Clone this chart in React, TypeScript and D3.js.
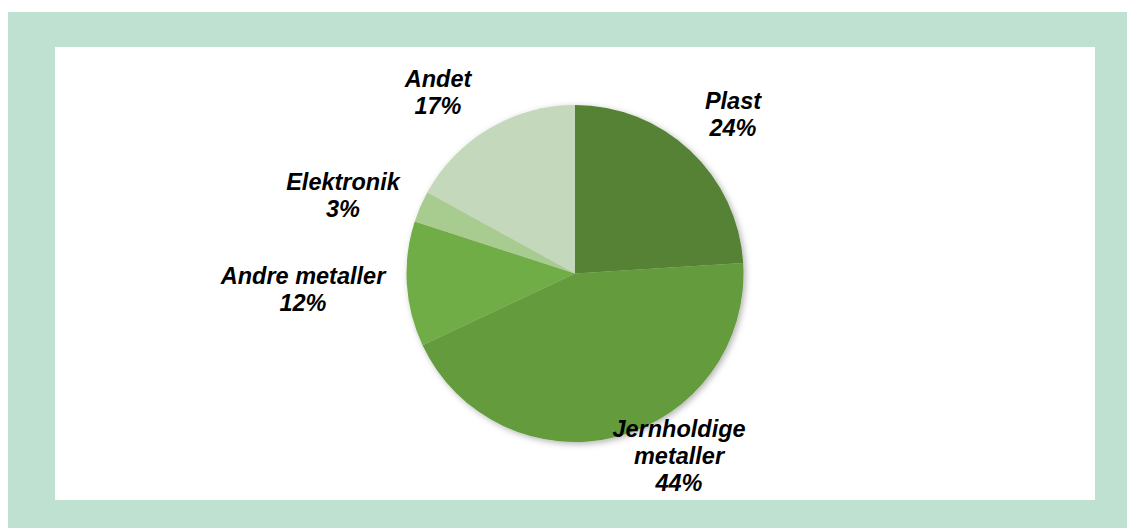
import React from "react";
import * as d3 from "d3";

const categories = ["Plast", "Jernholdige metaller", "Andre metaller", "Elektronik", "Andet"];
const values = [24, 44, 12, 3, 17];
const labelLines = [["Plast", "24%"], ["Jernholdige", "metaller", "44%"], ["Andre metaller", "12%"], ["Elektronik", "3%"], ["Andet", "17%"]];
const colors = ["#548235", "#639b3e", "#70ad47", "#a8cb8f", "#c4d8bb"];
// label anchor centers (x, first baseline)
const labelPos = [[733, 109], [679, 437], [303, 284], [343, 190], [438, 87]];

export default function App() {
  const W = 1127, H = 528;
  const cx = 575, cy = 273.5, r = 168.5;
  const pie = d3.pie<number>().sort(null).value((d) => d);
  const arcs = pie(values);
  const arc = d3.arc<d3.PieArcDatum<number>>().innerRadius(0).outerRadius(r);
  return (
    <svg width={W} height={H} style={{ position: "absolute", left: 0, top: 0 }}>
      <defs>
        <filter id="sh" x="-20%" y="-20%" width="140%" height="140%">
          <feDropShadow dx="2" dy="2" stdDeviation="3" floodColor="#000" floodOpacity="0.3" />
        </filter>
      </defs>
      <rect x={0} y={0} width={W} height={H} fill="#ffffff" />
      <rect x={8} y={12} width={W - 8} height={H - 12} fill="#bfe1d1" />
      <rect x={55} y={47} width={1040} height={453} fill="#ffffff" />
      <g transform={`translate(${cx},${cy})`} filter="url(#sh)">
        {arcs.map((a, i) => (
          <path key={categories[i]} d={arc(a) || ""} fill={colors[i]} />
        ))}
      </g>
      {labelLines.map((lines, i) => (
        <text
          key={categories[i]}
          x={labelPos[i][0]}
          y={labelPos[i][1]}
          textAnchor="middle"
          fontFamily="'Liberation Sans', Arial, sans-serif"
          fontWeight="bold"
          fontStyle="italic"
          fontSize={23.5}
          fill="#000"
        >
          {lines.map((l, j) => (
            <tspan key={j} x={labelPos[i][0]} dy={j === 0 ? 0 : 27}>{l}</tspan>
          ))}
        </text>
      ))}
    </svg>
  );
}
